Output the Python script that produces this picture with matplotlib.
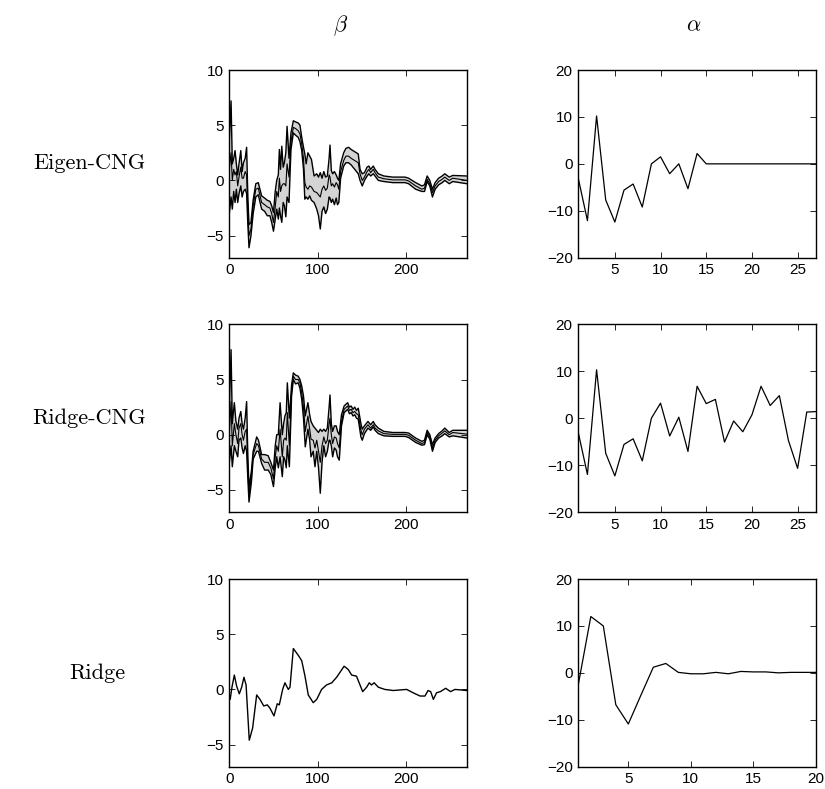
import numpy as np
import matplotlib
matplotlib.use("Agg")
import matplotlib.pyplot as plt

plt.rcParams['mathtext.fontset'] = 'cm'
plt.rcParams['font.family'] = ['Liberation Sans', 'DejaVu Sans']

# ---------------- data ----------------
row_labels = ["Eigen-CNG", "Ridge-CNG", "Ridge"]
col_titles = [r"$\beta$", r"$\alpha$"]

# Eigen-CNG beta band: x, lower, middle, upper
eig_x = [0, 2, 3.4, 5, 6.5, 8, 9.5, 11, 13, 14.5, 16, 18, 19.6, 21, 22.3, 24.5, 27, 30, 32.8,
         36.6, 40, 43, 46, 48, 50, 52, 53.7, 55.5, 56.7, 58, 59.4, 61, 62.4, 64, 65.4, 67.6,
         69.8, 72.5, 75, 78, 80, 82, 84, 85.5, 87, 89, 91, 93, 96, 99, 101, 103, 105, 107,
         109, 111, 113, 114, 115.5, 117, 119, 121, 122.5, 124, 126, 129.5, 132, 135, 138,
         142, 146, 148, 150.5, 153, 156, 158, 160, 163, 165, 168.7, 175, 185, 199, 203, 211,
         218, 221, 224, 227, 230, 233, 237, 241, 244, 249, 253, 269]
eig_lo = [-3.0, -1.5, -2.6, -1.0, -2.0, -0.8, -2.0, -1.2, -0.5, -1.5, -1.0, -0.8, -1.2, -4.0,
          -6.1, -5.0, -3.0, -1.5, -1.3, -2.6, -2.8, -3.2, -3.2, -3.8, -4.6, -3.5, -2.6, -3.5,
          -2.5, -3.2, -3.8, -2.0, -2.3, -3.3, -1.5, -2.0, 2.8, 4.3, 4.1, 3.9, 3.5, 2.7, 1.0,
          -1.7, -1.5, -1.7, -1.4, -1.8, -2.0, -2.6, -3.2, -4.4, -2.8, -2.4, -3.0, -2.6, -1.5,
          -1.6, -2.0, -1.7, -2.2, -1.6, -2.2, -2.0, 0.2, 1.3, 1.6, 1.6, 1.4, 1.0, 0.6, 0.0,
          -0.5, 0.0, 0.4, 0.6, 0.4, 0.6, 0.4, 0.0, -0.1, -0.2, -0.2, -0.3, -0.8, -1.0, -1.0,
          -0.1, -0.5, -1.5, -0.8, -0.4, -0.2, 0.0, -0.3, -0.1, -0.3]
eig_mid = [1.0, 2.5, 0.0, 1.0, 0.5, 0.8, -0.5, 0.3, 1.2, 0.2, 0.2, 0.8, 0.5, -3.0, -5.0, -4.4,
           -2.3, -0.8, -0.7, -2.0, -2.2, -2.4, -2.5, -3.0, -3.8, -2.4, -1.0, -1.5, 0.2, -1.0,
           -0.5, -0.3, -0.3, -0.5, 1.5, 0.3, 3.5, 4.8, 4.7, 4.5, 4.2, 3.3, 2.0, -0.2, -0.6,
           -0.8, -0.5, -0.6, -1.0, -1.1, -1.3, -1.5, -0.8, -0.5, -0.9, -0.7, 0.5, 0.3, -0.5,
           -0.3, -0.6, -0.2, -0.4, -0.8, 0.8, 1.8, 2.2, 2.2, 2.0, 1.8, 1.6, 0.6, 0.0, 0.3, 0.8,
           1.0, 0.7, 1.0, 0.7, 0.3, 0.15, 0.05, 0.05, -0.05, -0.5, -0.8, -0.7, 0.1, -0.3, -1.1,
           -0.5, -0.1, 0.1, 0.3, 0.0, 0.2, 0.0]
eig_hi = [3.6, 7.2, 1.5, 2.0, 2.7, 1.5, 0.5, 1.5, 2.7, 0.8, 1.6, 2.0, 3.0, -1.5, -4.0, -3.8,
          -1.8, -0.3, -0.2, -1.4, -1.6, -1.8, -1.9, -2.3, -2.9, -1.0, 0.0, 0.5, 2.8, 1.0, 3.1,
          1.2, 1.6, 2.5, 4.9, 2.0, 4.3, 5.4, 5.3, 5.2, 5.0, 3.9, 3.0, 2.4, 1.5, 2.5, 2.2, 1.9,
          0.4, 0.6, 0.3, 0.7, 0.2, 0.8, 0.3, 0.4, 2.0, 3.2, 0.9, 0.6, 0.8, 0.5, 0.2, 0.0, 1.5,
          2.5, 2.9, 3.0, 2.8, 2.6, 2.4, 1.0, 0.6, 0.7, 1.2, 1.3, 1.0, 1.3, 1.0, 0.6, 0.4, 0.3,
          0.3, 0.2, -0.2, -0.5, -0.4, 0.4, 0.0, -0.8, -0.2, 0.2, 0.4, 0.6, 0.3, 0.45, 0.4]

# Ridge-CNG beta band: x, lower, middle, upper
rcng_x = [0, 2, 3.4, 5.7, 7.5, 9.5, 11, 13, 14.5, 16, 18, 19.6, 21, 22.3, 25, 27, 31, 33,
          36.6, 40, 44, 47, 50, 52, 53.7, 55.5, 57.5, 60, 61.5, 63, 64.5, 65.7, 68, 70.5,
          72.5, 75, 78, 80, 82, 84, 86, 89, 91, 92.5, 95, 97, 99, 101, 103, 105, 107, 109,
          111, 113, 114, 115.5, 117, 119, 121, 122.5, 124.5, 127, 130, 134, 136, 138, 140,
          142, 144, 146, 149, 150.5, 153, 157, 160, 163, 165, 168.7, 175, 185, 199, 203, 211,
          218, 221, 224, 227, 230, 233, 237, 241, 244, 249, 253, 269]
rcng_lo = [-2.5, -1.0, -2.9, -1.0, -1.5, -2.0, -0.5, -0.3, -1.2, -1.7, -1.0, -1.5, -4.0, -6.1,
           -4.3, -2.2, -1.5, -1.5, -2.6, -3.2, -3.2, -3.6, -4.7, -3.0, -2.0, -3.0, -2.0, -3.8,
           -2.0, -2.3, -3.0, -1.0, -2.9, 3.5, 5.0, 4.6, 4.7, 4.2, 3.2, 1.5, -1.1, 0.5, -0.5,
           -2.0, -1.5, -2.9, -1.5, -3.0, -5.3, -2.5, -1.0, -2.0, -1.5, -0.5, -0.5, -1.0, -2.0,
           -1.2, -1.4, -2.0, -2.3, 0.8, 2.0, 2.3, 1.9, 2.0, 1.7, 1.8, 1.5, 1.4, -0.2, -0.5, 0.1,
           0.6, 0.4, 0.7, 0.4, 0.1, -0.1, -0.15, -0.15, -0.25, -0.7, -0.95, -0.9, 0.0, -0.4,
           -1.5, -0.7, -0.3, -0.1, 0.1, -0.2, -0.1, -0.3]
rcng_mid = [0.0, 3.0, -1.0, 1.0, 0.0, -0.8, 0.6, 1.0, 0.0, -0.5, 0.3, 0.5, -3.0, -5.5, -3.8,
            -1.8, -0.8, -1.0, -2.2, -2.5, -2.5, -3.0, -4.0, -2.0, -1.0, -1.5, 0.5, -2.0, -0.5,
            -0.3, -0.5, 2.0, -1.0, 4.0, 5.3, 5.0, 5.0, 4.7, 3.8, 2.5, 0.3, 1.7, 0.5, -0.4,
            -0.5, -1.2, -0.5, -1.5, -2.5, -1.0, -0.2, -0.8, -0.5, 1.0, 1.5, 0.0, -0.8, -0.2,
            -0.3, -0.8, -1.2, 1.2, 2.3, 2.6, 2.2, 2.3, 2.0, 2.1, 1.9, 1.8, 0.4, 0.0, 0.5, 0.9,
            0.6, 0.9, 0.6, 0.35, 0.1, 0.03, 0.03, -0.05, -0.5, -0.8, -0.7, 0.2, -0.2, -1.2,
            -0.5, -0.1, 0.15, 0.35, 0.0, 0.2, 0.05]
rcng_hi = [2.5, 7.7, 1.0, 2.9, 1.2, 0.5, 1.5, 2.1, 1.0, 0.5, 1.5, 3.0, -2.0, -4.8, -3.3, -1.5,
           -0.2, -0.5, -1.8, -1.8, -1.9, -2.5, -3.2, -1.0, 0.0, 0.0, 2.9, 0.0, 1.0, 1.7, 2.0,
           4.7, 1.5, 4.5, 5.6, 5.4, 5.3, 5.0, 4.4, 3.5, 1.7, 2.9, 1.8, 1.2, 0.8, 0.6, 0.4, 0.2,
           0.5, 0.3, 0.5, 0.3, 0.6, 2.5, 3.6, 1.0, 0.3, 0.8, 0.8, 0.3, 0.0, 1.8, 2.6, 2.9, 2.5,
           2.6, 2.3, 2.5, 2.2, 2.4, 1.0, 0.5, 0.8, 1.2, 0.9, 1.2, 0.9, 0.6, 0.3, 0.2, 0.2, 0.15,
           -0.3, -0.6, -0.5, 0.4, 0.0, -0.9, -0.3, 0.1, 0.35, 0.6, 0.2, 0.4, 0.4]

# Ridge beta (single curve)
ridge_x = [0, 1, 3, 5.7, 8.3, 11.3, 14, 16.6, 19, 22.6, 26.4, 31, 34.7, 39, 43, 46, 50.6,
           54.3, 56.6, 60.4, 63, 66.8, 68.7, 72.5, 78, 82, 85.7, 89.4, 95, 99, 104.5, 110,
           116, 121.5, 130, 134.7, 138.5, 144, 147, 151, 155.5, 158.5, 161, 164, 168.7, 176,
           185.7, 200.8, 208, 216, 221.5, 225, 228, 231, 234.7, 239, 245, 250.5, 255.5, 268.7]
ridge_y = [-0.5, -0.9, 0.2, 1.3, 0.3, -0.4, 0.2, 1.1, 0.4, -4.6, -3.5, -0.5, -0.9, -1.5,
           -1.4, -1.7, -2.4, -1.3, -1.4, 0.0, 0.6, 0.0, 0.2, 3.7, 3.1, 2.6, 1.2, -0.5, -1.2,
           -0.9, 0.0, 0.4, 0.6, 1.1, 2.1, 1.8, 1.3, 1.2, 0.6, -0.2, 0.2, 0.6, 0.4, 0.6, 0.2,
           0.0, -0.1, 0.0, -0.3, -0.6, -0.6, -0.1, -0.2, -0.9, -0.3, -0.2, 0.1, -0.2, 0.0, -0.1]

# alpha series
alpha_eig = [-3.1, -12.1, 10.2, -7.7, -12.4, -5.6, -4.3, -9.2, 0.0, 1.5, -2.1, 0.0, -5.3, 2.2,
             0, 0, 0, 0, 0, 0, 0, 0, 0, 0, 0, 0, 0]
alpha_rcng = [-3.1, -12.0, 10.3, -7.5, -12.3, -5.6, -4.4, -9.1, 0.0, 3.2, -3.8, 0.2, -7.1, 6.8,
              3.1, 4.0, -5.1, -0.6, -2.9, 0.7, 6.8, 2.7, 4.8, -4.8, -10.7, 1.3, 1.4]
alpha_ridge = [-2.5, 12.0, 10.0, -6.8, -10.9, -4.8, 1.2, 2.0, 0.1, -0.2, -0.2, 0.1, -0.2, 0.3,
               0.2, 0.2, 0.0, 0.1, 0.1, 0.1]

beta_xticks = [0, 100, 200]
beta_yticks = [-5, 0, 5, 10]
alpha_yticks = [-20, -10, 0, 10, 20]

# ---------------- figure ----------------
W, H = 825, 789
fig = plt.figure(figsize=(W / 100, H / 100), dpi=100)

lefts = [229.3, 578.3]
width = 237.6
tops = [70, 324.3, 579]
height = 187.7

def make_ax(col, row):
    l = lefts[col] / W
    b = 1 - (tops[row] + height) / H
    ax = fig.add_axes([l, b, width / W, height / H])
    ax.tick_params(direction='in', top=True, right=True, length=4, width=0.6,
                   labelsize=11, pad=4)
    for s in ax.spines.values():
        s.set_linewidth(1.0)
    return ax

band_fill = '#d4d4d4'

def beta_band(ax, x, lo, mid, hi):
    ax.fill_between(x, lo, hi, color=band_fill, lw=0)
    ax.plot(x, lo, color='black', lw=1.0)
    ax.plot(x, hi, color='black', lw=1.0)
    ax.plot(x, mid, color='black', lw=0.8)

def beta_axes(ax):
    ax.set_xlim(0, 269)
    ax.set_ylim(-7, 10)
    ax.set_xticks(beta_xticks)
    ax.set_yticks(beta_yticks)

def alpha_axes(ax, n, xticks):
    ax.set_xlim(1, n)
    ax.set_ylim(-20, 20)
    ax.set_xticks(xticks)
    ax.set_yticks(alpha_yticks)

# Row 1
ax = make_ax(0, 0)
beta_band(ax, eig_x, eig_lo, eig_mid, eig_hi)
beta_axes(ax)
ax = make_ax(1, 0)
ax.plot(np.arange(1, len(alpha_eig) + 1), alpha_eig, color='black', lw=0.9)
alpha_axes(ax, 27, [5, 10, 15, 20, 25])

# Row 2
ax = make_ax(0, 1)
beta_band(ax, rcng_x, rcng_lo, rcng_mid, rcng_hi)
beta_axes(ax)
ax = make_ax(1, 1)
ax.plot(np.arange(1, len(alpha_rcng) + 1), alpha_rcng, color='black', lw=0.9)
alpha_axes(ax, 27, [5, 10, 15, 20, 25])

# Row 3
ax = make_ax(0, 2)
ax.plot(ridge_x, ridge_y, color='black', lw=1.0)
beta_axes(ax)
ax = make_ax(1, 2)
ax.plot(np.arange(1, len(alpha_ridge) + 1), alpha_ridge, color='black', lw=0.9)
alpha_axes(ax, 20, [5, 10, 15, 20])

# Column titles
fig.text(341 / W, 1 - 26 / H, col_titles[0], ha='center', va='center', fontsize=16)
fig.text(694 / W, 1 - 26 / H, col_titles[1], ha='center', va='center', fontsize=16)

# Row labels
label_pos = [(89, 163), (89, 418), (97, 673)]
for lab, (px, py) in zip(row_labels, label_pos):
    fig.text(px / W, 1 - py / H, lab, ha='center', va='center', fontsize=16,
             family=['cmr10', 'DejaVu Serif'])

fig.savefig('out.png', dpi=100)
